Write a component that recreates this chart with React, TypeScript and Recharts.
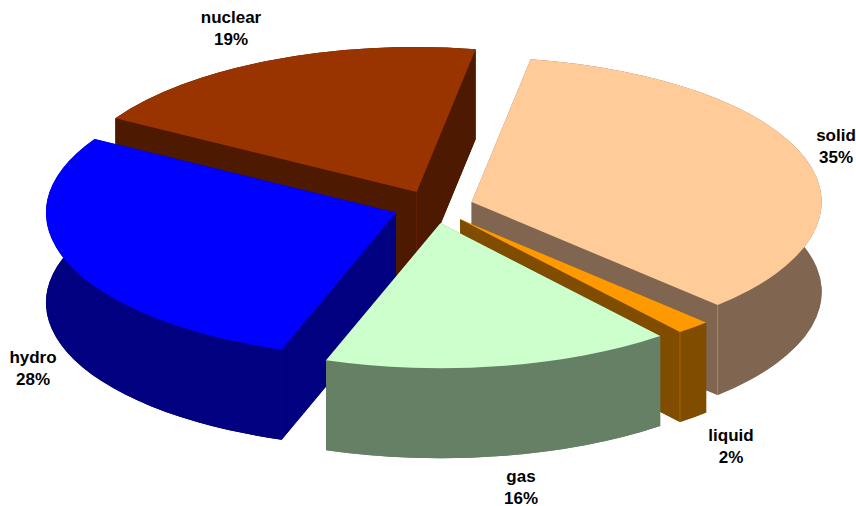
import React from 'react';
import { PieChart, Pie } from 'recharts';

const categories = ['solid', 'liquid', 'gas', 'hydro', 'nuclear'];
const shares = [34.9, 1.6, 16.1, 28.2, 19.2];
const topColors = ['#FFCC99', '#FF9900', '#CCFFCC', '#0000FF', '#993300'];
const wallColors = ['#806650', '#804C00', '#668066', '#000080', '#4D1900'];

// back to front, the slices overlap like a real 3d pie
const drawOrder = ['nuclear', 'solid', 'liquid', 'hydro', 'gas'];

const labelSpots: Record<string, number[]> = {
    solid: [836, 141],
    liquid: [731, 441],
    gas: [521, 482],
    hydro: [33, 363],
    nuclear: [231, 23],
};

const rows = categories.map((name, i) => ({
    name,
    value: shares[i],
    top: topColors[i],
    wall: wallColors[i],
}));

const TILT = 0.414;
const DEPTH = 90;
const EXPLODE = 40;

const Wedge3D: React.FC<any> = ({ cx, cy, outerRadius, startAngle, endAngle, midAngle, top, wall }) => {
    const rad = (deg: number) => (deg * Math.PI) / 180;
    const ox = cx + EXPLODE * Math.cos(rad(midAngle));
    const oy = cy - EXPLODE * TILT * Math.sin(rad(midAngle));
    const rx = outerRadius;
    const ry = outerRadius * TILT;
    const px = (a: number) => ox + rx * Math.cos(rad(a));
    const py = (a: number, dz = 0) => oy - ry * Math.sin(rad(a)) + dz;
    const large = Math.abs(startAngle - endAngle) > 180 ? 1 : 0;

    const face = (dz: number) =>
        `M${ox},${oy + dz} L${px(startAngle)},${py(startAngle, dz)} ` +
        `A${rx},${ry} 0 ${large} 1 ${px(endAngle)},${py(endAngle, dz)} Z`;
    const band =
        `M${px(startAngle)},${py(startAngle)} A${rx},${ry} 0 ${large} 1 ${px(endAngle)},${py(endAngle)} ` +
        `L${px(endAngle)},${py(endAngle, DEPTH)} A${rx},${ry} 0 ${large} 0 ${px(startAngle)},${py(startAngle, DEPTH)} Z`;
    const side = (a: number) =>
        `M${ox},${oy} L${px(a)},${py(a)} L${px(a)},${py(a, DEPTH)} L${ox},${oy + DEPTH} Z`;

    // which walls face the viewer, the faint seams only show between those
    const startShows = Math.sin(rad(startAngle + 90)) < 0;
    const endShows = Math.sin(rad(endAngle - 90)) < 0;
    const seams: string[] = [];
    if (startShows && endShows) seams.push(`M${ox},${oy} L${ox},${oy + DEPTH}`);
    if (startShows && Math.sin(rad(startAngle)) < 0) seams.push(`M${px(startAngle)},${py(startAngle)} V${py(startAngle, DEPTH)}`);
    if (endShows && Math.sin(rad(endAngle)) < 0) seams.push(`M${px(endAngle)},${py(endAngle)} V${py(endAngle, DEPTH)}`);

    return (
        <g>
            <path d={face(DEPTH)} fill={wall} />
            <path d={band} fill={wall} />
            <path d={side(startAngle)} fill={wall} />
            <path d={side(endAngle)} fill={wall} />
            <path d={face(0)} fill={top} />
            {seams.map((d) => (
                <path key={d} d={d} fill="none" stroke={top} strokeOpacity={0.35} strokeWidth={1} />
            ))}
        </g>
    );
};

const SliceLabel: React.FC<any> = ({ name, percent }) => {
    const [x, y] = labelSpots[name];
    return (
        <text x={x} y={y} textAnchor="middle" fontFamily="'Liberation Sans', Arial, sans-serif" fontSize={17} fontWeight="bold" fill="#000">
            <tspan x={x} dy={0}>{name}</tspan>
            <tspan x={x} dy={22}>{`${Math.round(percent * 100)}%`}</tspan>
        </text>
    );
};

export default function App() {
    return (
        <div style={{ position: 'absolute', left: 0, top: 0, width: 856, height: 506, background: '#fff' }}>
            <PieChart width={856} height={506} margin={{ top: 0, right: 0, bottom: 0, left: 0 }}>
                {drawOrder.map((layer) => (
                    <Pie
                        key={layer}
                        data={rows}
                        dataKey="value"
                        nameKey="name"
                        cx={433.5}
                        cy={207}
                        innerRadius={0}
                        outerRadius={350}
                        startAngle={80.3}
                        endAngle={-279.7}
                        stroke="none"
                        isAnimationActive={false}
                        labelLine={false}
                        label={(p: any) => (p.name === layer ? <SliceLabel {...p} /> : null)}
                        shape={(p: any) => (p.name === layer ? <Wedge3D {...p} /> : <g />)}
                    />
                ))}
            </PieChart>
        </div>
    );
}
